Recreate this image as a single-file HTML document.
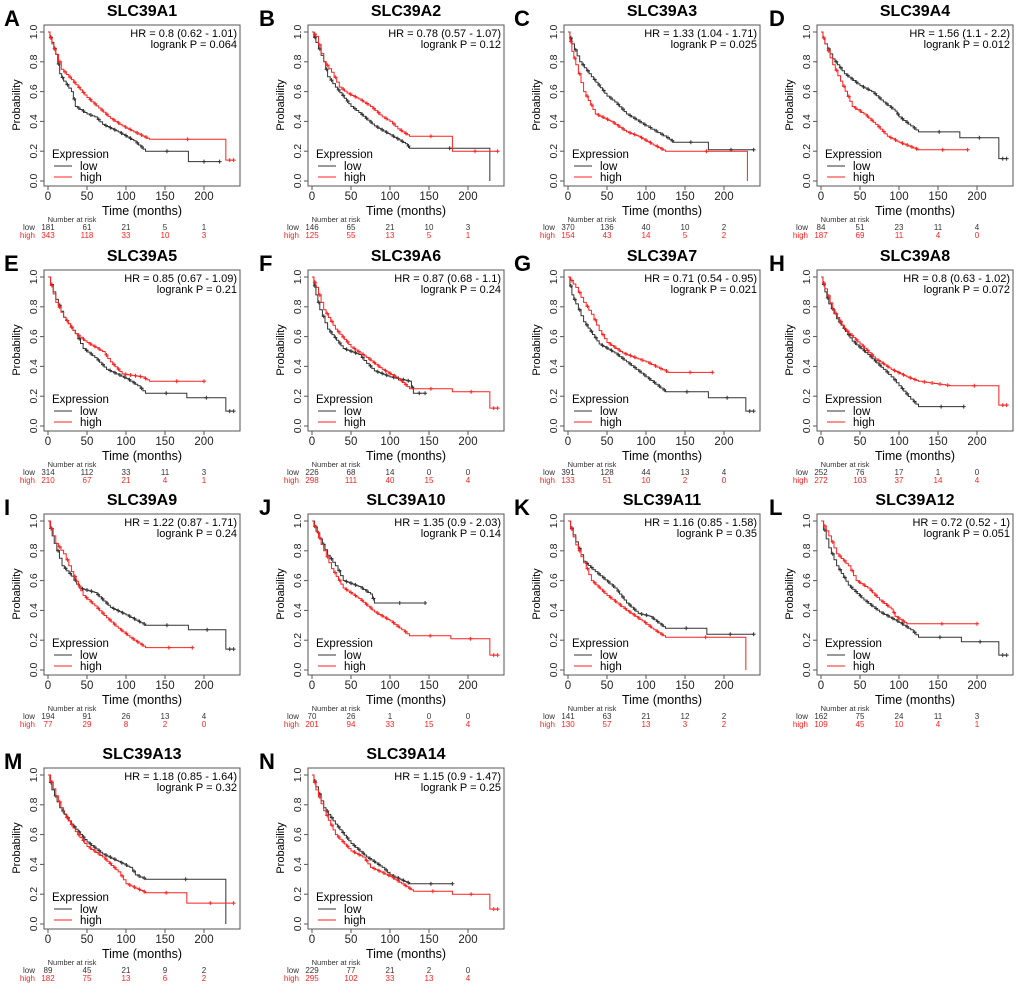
<!DOCTYPE html>
<html><head><meta charset="utf-8"><style>
html,body{margin:0;padding:0;background:#fff;}
svg{display:block;font-family:"Liberation Sans","DejaVu Sans",sans-serif;}
</style></head>
<body>
<svg id="fig" width="1020" height="985" viewBox="0 0 1020 985" xmlns="http://www.w3.org/2000/svg"></svg>
<script>
const panelLetters = ["A","B","C","D","E","F","G","H","I","J","K","L","M","N"];
const geneNames = ["SLC39A1","SLC39A2","SLC39A3","SLC39A4","SLC39A5","SLC39A6","SLC39A7","SLC39A8","SLC39A9","SLC39A10","SLC39A11","SLC39A12","SLC39A13","SLC39A14"];
const hrTexts = ["HR = 0.8 (0.62 - 1.01)","HR = 0.78 (0.57 - 1.07)","HR = 1.33 (1.04 - 1.71)","HR = 1.56 (1.1 - 2.2)","HR = 0.85 (0.67 - 1.09)","HR = 0.87 (0.68 - 1.1)","HR = 0.71 (0.54 - 0.95)","HR = 0.8 (0.63 - 1.02)","HR = 1.22 (0.87 - 1.71)","HR = 1.35 (0.9 - 2.03)","HR = 1.16 (0.85 - 1.58)","HR = 0.72 (0.52 - 1)","HR = 1.18 (0.85 - 1.64)","HR = 1.15 (0.9 - 1.47)"];
const pTexts = ["logrank P = 0.064","logrank P = 0.12","logrank P = 0.025","logrank P = 0.012","logrank P = 0.21","logrank P = 0.24","logrank P = 0.021","logrank P = 0.072","logrank P = 0.24","logrank P = 0.14","logrank P = 0.35","logrank P = 0.051","logrank P = 0.32","logrank P = 0.25"];
const xTicks = [0,50,100,150,200];
const yTicks = [0,0.2,0.4,0.6,0.8,1.0];
const yTickLabels = ["0.0","0.2","0.4","0.6","0.8","1.0"];
const lowCurves = [
 [[0,1],[5,0.93],[10,0.85],[15,0.72],[20,0.67],[30,0.6],[35,0.5],[50,0.45],[60,0.43],[70,0.38],[90,0.33],[110,0.27],[125,0.2],[180,0.13],[220,0.13]],
 [[0,1],[5,0.93],[15,0.8],[20,0.7],[30,0.63],[50,0.5],[60,0.46],[80,0.37],[100,0.31],[120,0.25],[125,0.22],[228,0],[228,0]],
 [[0,1],[5,0.92],[15,0.8],[30,0.7],[50,0.57],[60,0.53],[75,0.45],[100,0.37],[130,0.28],[135,0.26],[180,0.21],[238,0.21]],
 [[0,1],[5,0.92],[15,0.82],[30,0.72],[50,0.64],[65,0.6],[80,0.53],[95,0.47],[100,0.43],[115,0.37],[125,0.33],[178,0.29],[228,0.15],[238,0.15]],
 [[0,1],[10,0.85],[20,0.73],[35,0.62],[45,0.52],[60,0.46],[75,0.38],[100,0.32],[115,0.27],[125,0.22],[178,0.19],[228,0.1],[238,0.1]],
 [[0,1],[5,0.88],[10,0.78],[20,0.65],[40,0.52],[60,0.48],[70,0.42],[80,0.37],[100,0.33],[125,0.3],[130,0.22],[145,0.22]],
 [[0,1],[5,0.88],[10,0.82],[20,0.7],[40,0.55],[60,0.49],[75,0.43],[100,0.33],[125,0.23],[180,0.19],[228,0.1],[238,0.1]],
 [[0,1],[5,0.9],[10,0.82],[20,0.72],[40,0.57],[60,0.48],[80,0.38],[90,0.33],[100,0.27],[115,0.18],[125,0.13],[183,0.13]],
 [[0,1],[8,0.85],[18,0.7],[30,0.63],[40,0.55],[60,0.52],[80,0.42],[100,0.37],[125,0.3],[180,0.27],[228,0.14],[238,0.14]],
 [[0,1],[10,0.88],[20,0.77],[30,0.7],[40,0.6],[60,0.56],[75,0.51],[80,0.45],[145,0.45]],
 [[0,1],[10,0.86],[20,0.73],[35,0.66],[60,0.55],[75,0.45],[90,0.38],[105,0.36],[125,0.28],[178,0.24],[238,0.24]],
 [[0,1],[10,0.82],[20,0.7],[35,0.57],[55,0.47],[75,0.39],[100,0.32],[115,0.27],[125,0.22],[180,0.19],[228,0.1],[238,0.1]],
 [[0,1],[5,0.9],[15,0.78],[30,0.67],[50,0.55],[70,0.47],[90,0.42],[105,0.38],[112,0.33],[125,0.3],[228,0],[228,0]],
 [[0,1],[5,0.92],[15,0.78],[30,0.67],[50,0.54],[70,0.45],[90,0.38],[100,0.33],[125,0.27],[180,0.27]]
];
const highCurves = [
 [[0,1],[5,0.92],[10,0.85],[17,0.75],[30,0.68],[50,0.56],[65,0.49],[80,0.42],[95,0.37],[110,0.33],[130,0.28],[228,0.14],[238,0.14]],
 [[0,1],[5,0.97],[15,0.8],[25,0.73],[35,0.63],[45,0.59],[60,0.55],[75,0.5],[90,0.43],[100,0.4],[110,0.35],[125,0.3],[180,0.2],[238,0.2]],
 [[0,1],[5,0.87],[10,0.78],[20,0.6],[35,0.45],[55,0.4],[75,0.33],[90,0.3],[110,0.24],[125,0.2],[230,0],[230,0]],
 [[0,1],[5,0.92],[15,0.78],[25,0.67],[40,0.5],[55,0.45],[70,0.38],[85,0.3],[100,0.26],[124,0.21],[188,0.21]],
 [[0,1],[10,0.83],[20,0.73],[35,0.62],[50,0.56],[70,0.5],[80,0.43],[95,0.35],[120,0.33],[130,0.3],[200,0.3]],
 [[0,1],[5,0.93],[15,0.78],[30,0.65],[50,0.53],[70,0.46],[90,0.38],[110,0.32],[125,0.25],[180,0.23],[228,0.12],[238,0.12]],
 [[0,1],[10,0.93],[20,0.83],[30,0.75],[40,0.64],[50,0.56],[70,0.49],[90,0.45],[100,0.43],[128,0.36],[185,0.36]],
 [[0,1],[5,0.92],[15,0.78],[30,0.65],[50,0.55],[70,0.45],[90,0.38],[110,0.33],[125,0.3],[165,0.27],[228,0.14],[238,0.14]],
 [[0,1],[10,0.85],[20,0.78],[30,0.66],[45,0.5],[60,0.43],[75,0.35],[90,0.28],[105,0.22],[125,0.15],[185,0.15]],
 [[0,1],[5,0.93],[15,0.8],[25,0.68],[40,0.55],[60,0.48],[80,0.39],[100,0.33],[115,0.27],[125,0.23],[178,0.21],[228,0.1],[238,0.1]],
 [[0,1],[10,0.84],[20,0.72],[30,0.6],[50,0.5],[75,0.4],[95,0.33],[110,0.27],[125,0.22],[228,0],[228,0]],
 [[0,1],[10,0.9],[20,0.78],[35,0.7],[45,0.6],[60,0.55],[75,0.47],[90,0.41],[95,0.36],[110,0.31],[200,0.31]],
 [[0,1],[10,0.86],[20,0.74],[35,0.62],[50,0.52],[70,0.45],[90,0.35],[100,0.27],[125,0.21],[178,0.14],[238,0.14]],
 [[0,1],[5,0.9],[15,0.76],[30,0.6],[50,0.49],[65,0.45],[75,0.38],[100,0.32],[115,0.27],[130,0.22],[180,0.2],[228,0.1],[238,0.1]]
];
const lowRisk = [[181,61,21,5,1],[146,65,21,10,3],[370,136,40,10,2],[84,51,23,11,4],[314,112,33,11,3],[226,68,14,0,0],[391,128,44,13,4],[252,76,17,1,0],[194,91,26,13,4],[70,26,1,0,0],[141,63,21,12,2],[162,75,24,11,3],[89,45,21,9,2],[229,77,21,2,0]];
const highRisk = [[343,118,33,10,3],[125,55,13,5,1],[154,43,14,5,2],[187,69,11,4,0],[210,67,21,4,1],[298,111,40,15,4],[133,51,10,2,0],[272,103,37,14,4],[77,29,8,2,0],[201,94,33,15,4],[130,57,13,3,2],[109,45,10,4,1],[182,75,13,6,2],[295,102,33,13,4]];

const NS="http://www.w3.org/2000/svg";
const svg=document.getElementById('fig');
const colX=[0,264,520,773], rowY=[0,245,489,743];
function mk(tag,attrs,parent,text){const e=document.createElementNS(NS,tag);for(const k in attrs)e.setAttribute(k,attrs[k]);if(text!==undefined)e.textContent=text;parent.appendChild(e);return e;}
const LOW="#333", HIGH="#ff2020";
function drawCurve(g,pts,xs,ys,color,name){
  let d="M"+xs(pts[0][0])+","+ys(pts[0][1]);
  let cd="";
  const plus=(x,y)=>{cd+=`M${x-2},${y}h4M${x},${y-2}v4`;};
  for(let i=1;i<pts.length;i++){
    const t0=pts[i-1][0],t1=pts[i][0],s0=pts[i-1][1],s1=pts[i][1];
    const isLast=(i===pts.length-1);
    const drop=s0-s1;
    const span=t1-t0;
    // render each drop as a staircase of small steps (visual texture only)
    const n=(isLast||span>40||drop<=0)?1:Math.max(1,Math.min(8,Math.round(span/3)));
    if(n===1){
      d+=" H"+xs(t1)+" V"+ys(s1);
      if(span>6) plus(xs((t0+t1)/2),ys(s0));
    } else {
      for(let j=1;j<=n;j++){
        const tt=t0+span*j/n, ss=s0-drop*j/n;
        d+=" H"+xs(tt)+" V"+ys(ss);
        if(j%2===0) plus(xs(tt-span/(2*n)),ys(s0-drop*(j-1)/n));
      }
    }
  }
  const last=pts[pts.length-1];
  if(last[1]>0) plus(xs(last[0]),ys(last[1]));
  const p=mk('path',{d:d,fill:'none',stroke:color,'stroke-width':1},g);
  
  
  const c=mk('path',{d:cd,fill:'none',stroke:color,'stroke-width':1},g);
  
  
}
for(let k=0;k<14;k++){
  const col=k%4,row=Math.floor(k/4);
  const ox=colX[col],oy=rowY[row];
  const g=mk('g',{},svg);
  
  
  const L=ox+44,T=oy+25,W=196,H=161;
  const xs=t=>L+4+t*0.78;
  const ys=s=>T+7+(1-s)*149;
  let e=mk('text',{x:col*255+4,y:oy+26,'font-size':22,'font-weight':'bold'},g,panelLetters[k]);
  
  e=mk('text',{x:L+W/2,y:oy+16,'font-size':16,'font-weight':'bold','text-anchor':'middle'},g,geneNames[k]);
  
  e=mk('rect',{x:L,y:T,width:W,height:H,fill:'none',stroke:'#555','stroke-width':1},g);
  
  yTicks.forEach((v,i)=>{
    mk('line',{x1:L-4,x2:L,y1:ys(v),y2:ys(v),stroke:'#555'},g);
    const t=mk('text',{x:0,y:0,'font-size':10.5,'text-anchor':'middle',fill:'#222',transform:`translate(${L-7},${ys(v)}) rotate(-90)`},g,yTickLabels[i]);
    
  });
  xTicks.forEach(v=>{
    mk('line',{x1:xs(v),x2:xs(v),y1:T+H,y2:T+H+4,stroke:'#555'},g);
    const t=mk('text',{x:xs(v),y:T+H+14,'font-size':11.5,'text-anchor':'middle',fill:'#222'},g,String(v));
    
  });
  e=mk('text',{x:0,y:0,'font-size':11,'text-anchor':'middle',transform:`translate(${L-24},${T+80}) rotate(-90)`},g,'Probability');
  
  e=mk('text',{x:L+98,y:T+190,'font-size':12.5,'text-anchor':'middle'},g,'Time (months)');
  
  e=mk('text',{x:L+193,y:T+12,'font-size':11,'text-anchor':'end'},g,hrTexts[k]);
  
  e=mk('text',{x:L+193,y:T+23,'font-size':11,'text-anchor':'end'},g,pTexts[k]);
  
  drawCurve(g,lowCurves[k],xs,ys,LOW,'low');
  drawCurve(g,highCurves[k],xs,ys,HIGH,'high');
  e=mk('text',{x:L+8,y:T+133,'font-size':11.5},g,'Expression');
  
  mk('line',{x1:L+10,x2:L+28,y1:T+141,y2:T+141,stroke:LOW},g);
  e=mk('text',{x:L+36,y:T+145,'font-size':11.5},g,'low');
  
  mk('line',{x1:L+10,x2:L+28,y1:T+152,y2:T+152,stroke:HIGH},g);
  e=mk('text',{x:L+36,y:T+156,'font-size':11.5},g,'high');
  
  e=mk('text',{x:L+28,y:oy+222,'font-size':7.5,'text-anchor':'middle',fill:'#333'},g,'Number at risk');
  
  e=mk('text',{x:L-9,y:oy+230,'font-size':8,'text-anchor':'end',fill:'#333'},g,'low');
  
  e=mk('text',{x:L-9,y:oy+238,'font-size':8,'text-anchor':'end',fill:HIGH},g,'high');
  
  xTicks.forEach((v,i)=>{
    let t=mk('text',{x:xs(v),y:oy+230,'font-size':8,'text-anchor':'middle',fill:'#333'},g,String(lowRisk[k][i]));
    
    t=mk('text',{x:xs(v),y:oy+238,'font-size':8,'text-anchor':'middle',fill:HIGH},g,String(highRisk[k][i]));
    
  });
}
</script>
</body></html>
